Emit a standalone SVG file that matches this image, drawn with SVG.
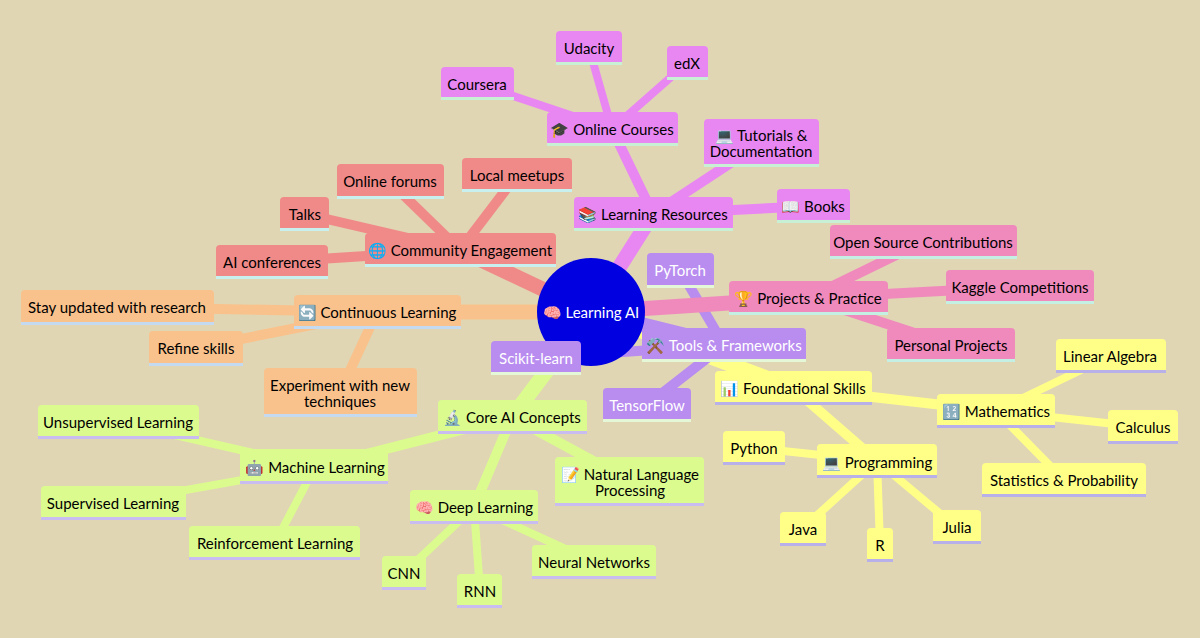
<svg xmlns="http://www.w3.org/2000/svg" width="1200" height="638" viewBox="0 0 1200 638">
<style>
text{font-family:Lato,"Noto Sans",sans-serif;font-size:15px;text-anchor:middle;fill:#000;transform:translateY(-.5px)}
.w text{fill:#fff}
g[id] rect{rx:4px}
g[id] rect.u{rx:0}
.l1{stroke-width:15}.l2{stroke-width:10}.l3{stroke-width:8}
.red line{stroke:#f08a88}.red rect{fill:#f08a88}.red .u{fill:#c8f0ee}
.org line{stroke:#f9c28c}.org rect{fill:#f9c28c}.org .u{fill:#c4daf0}
.grn line{stroke:#dcfb8e}.grn rect{fill:#dcfb8e}.grn .u{fill:#c8bcf0}
.pur line{stroke:#b98cf0}.pur rect{fill:#b98cf0}.pur .u{fill:#e4f8d8}
.yel line{stroke:#ffff88}.yel rect{fill:#ffff88}.yel .u{fill:#b8b0e8}
.pnk line{stroke:#f08abc}.pnk rect{fill:#f08abc}.pnk .u{fill:#c4f0e4}
.mag line{stroke:#e987f2}.mag rect{fill:#e987f2}.mag .u{fill:#c8f0d4}
</style>
<rect width="1200" height="638" fill="#e0d6b4"/>
<g id="connectors">
<g class="red"><line class="l1" x1="591" y1="312" x2="460" y2="250"/><line class="l2" x1="460" y1="250" x2="390" y2="182"/><line class="l2" x1="460" y1="250" x2="517" y2="175"/><line class="l2" x1="460" y1="250" x2="305" y2="214"/><line class="l2" x1="460" y1="250" x2="272" y2="262"/></g>
<g class="org"><line class="l1" x1="591" y1="312" x2="377" y2="312"/><line class="l2" x1="377" y1="312" x2="118" y2="307"/><line class="l2" x1="377" y1="312" x2="196" y2="348"/><line class="l2" x1="377" y1="312" x2="340" y2="392"/></g>
<g class="grn"><line class="l1" x1="591" y1="312" x2="512" y2="417"/><line class="l2" x1="512" y1="417" x2="315" y2="467"/><line class="l2" x1="512" y1="417" x2="474" y2="507"/><line class="l2" x1="512" y1="417" x2="630" y2="481"/><line class="l3" x1="315" y1="467" x2="118" y2="422"/><line class="l3" x1="315" y1="467" x2="113" y2="503"/><line class="l3" x1="315" y1="467" x2="275" y2="543"/><line class="l3" x1="474" y1="507" x2="404" y2="573"/><line class="l3" x1="474" y1="507" x2="480" y2="591"/><line class="l3" x1="474" y1="507" x2="594" y2="562"/></g>
<g class="yel"><line class="l1" x1="591" y1="312" x2="793" y2="388"/><line class="l2" x1="793" y1="388" x2="996" y2="411"/><line class="l2" x1="793" y1="388" x2="877" y2="461"/><line class="l3" x1="996" y1="411" x2="1110" y2="356"/><line class="l3" x1="996" y1="411" x2="1143" y2="427"/><line class="l3" x1="996" y1="411" x2="1064" y2="480"/><line class="l3" x1="877" y1="461" x2="754" y2="448"/><line class="l3" x1="877" y1="461" x2="802" y2="529"/><line class="l3" x1="877" y1="461" x2="880" y2="545"/><line class="l3" x1="877" y1="461" x2="956" y2="527"/></g>
<g class="pur"><line class="l1" x1="591" y1="312" x2="724" y2="345"/><line class="l2" x1="724" y1="345" x2="680" y2="270"/><line class="l2" x1="724" y1="345" x2="647" y2="405"/><line class="l2" x1="724" y1="345" x2="536" y2="358"/></g>
<g class="pnk"><line class="l1" x1="591" y1="312" x2="808" y2="298"/><line class="l2" x1="808" y1="298" x2="923" y2="242"/><line class="l2" x1="808" y1="298" x2="1020" y2="287"/><line class="l2" x1="808" y1="298" x2="951" y2="345"/></g>
<g class="mag"><line class="l1" x1="591" y1="312" x2="653" y2="214"/><line class="l2" x1="653" y1="214" x2="612" y2="129"/><line class="l2" x1="653" y1="214" x2="761" y2="143"/><line class="l2" x1="653" y1="214" x2="813" y2="206"/><line class="l3" x1="612" y1="129" x2="477" y2="84"/><line class="l3" x1="612" y1="129" x2="589" y2="48"/><line class="l3" x1="612" y1="129" x2="687" y2="63"/></g>
</g>
<g id="root" class="w"><circle cx="591" cy="312" r="54" fill="#0000e0"/><text x="591" y="318">🧠 Learning AI</text></g>
<g id="community" class="red"><rect x="365" y="233" width="191" height="34"/><rect class="u" x="365" y="264" width="191" height="3"/><text x="460" y="256">🌐 Community Engagement</text></g>
<g id="forums" class="red"><rect x="337" y="164" width="107" height="35"/><rect class="u" x="337" y="196" width="107" height="3"/><text x="390" y="187">Online forums</text></g>
<g id="talks" class="red"><rect x="280" y="197" width="49" height="34"/><rect class="u" x="280" y="228" width="49" height="3"/><text x="305" y="220">Talks</text></g>
<g id="conf" class="red"><rect x="216" y="245" width="112" height="34"/><rect class="u" x="216" y="276" width="112" height="3"/><text x="272" y="268">AI conferences</text></g>
<g id="meetups" class="red"><rect x="462" y="158" width="110" height="34"/><rect class="u" x="462" y="189" width="110" height="3"/><text x="517" y="181">Local meetups</text></g>
<g id="continuous" class="org"><rect x="294" y="295" width="167" height="34"/><rect class="u" x="294" y="326" width="167" height="3"/><text x="377" y="318">🔄 Continuous Learning</text></g>
<g id="stay" class="org"><rect x="21" y="290" width="193" height="35"/><rect class="u" x="21" y="322" width="193" height="3"/><text x="117" y="313">Stay updated with research</text></g>
<g id="refine" class="org"><rect x="149" y="331" width="94" height="35"/><rect class="u" x="149" y="363" width="94" height="3"/><text x="196" y="354">Refine skills</text></g>
<g id="experiment" class="org"><rect x="264" y="368" width="153" height="49"/><rect class="u" x="264" y="414" width="153" height="3"/><text x="340" y="391">Experiment with new</text><text x="340" y="407">techniques</text></g>
<g id="core" class="grn"><rect x="438" y="400" width="149" height="34"/><rect class="u" x="438" y="431" width="149" height="3"/><text x="512" y="423">🔬 Core AI Concepts</text></g>
<g id="scikit" class="pur"><rect x="491" y="341" width="90" height="34"/><rect class="u" x="491" y="372" width="90" height="3"/><g class="w"><text x="536" y="364">Scikit-learn</text></g></g>
<g id="ml" class="grn"><rect x="240" y="449" width="148" height="35"/><rect class="u" x="240" y="481" width="148" height="3"/><text x="315" y="473">🤖 Machine Learning</text></g>
<g id="unsup" class="grn"><rect x="38" y="405" width="161" height="34"/><rect class="u" x="38" y="436" width="161" height="3"/><text x="118" y="428">Unsupervised Learning</text></g>
<g id="sup" class="grn"><rect x="41" y="486" width="145" height="34"/><rect class="u" x="41" y="517" width="145" height="3"/><text x="113" y="509">Supervised Learning</text></g>
<g id="reinf" class="grn"><rect x="189" y="526" width="171" height="34"/><rect class="u" x="189" y="557" width="171" height="3"/><text x="275" y="549">Reinforcement Learning</text></g>
<g id="dl" class="grn"><rect x="410" y="490" width="128" height="34"/><rect class="u" x="410" y="521" width="128" height="3"/><text x="474" y="513">🧠 Deep Learning</text></g>
<g id="cnn" class="grn"><rect x="382" y="556" width="44" height="34"/><rect class="u" x="382" y="587" width="44" height="3"/><text x="404" y="579">CNN</text></g>
<g id="rnn" class="grn"><rect x="457" y="574" width="45" height="34"/><rect class="u" x="457" y="605" width="45" height="3"/><text x="480" y="597">RNN</text></g>
<g id="nn" class="grn"><rect x="532" y="545" width="124" height="34"/><rect class="u" x="532" y="576" width="124" height="3"/><text x="594" y="568">Neural Networks</text></g>
<g id="nlp" class="grn"><rect x="555" y="457" width="149" height="49"/><rect class="u" x="555" y="503" width="149" height="3"/><text x="630" y="480">📝 Natural Language</text><text x="630" y="496">Processing</text></g>
<g id="resources" class="mag"><rect x="574" y="197" width="159" height="34"/><rect class="u" x="574" y="228" width="159" height="3"/><text x="653" y="220">📚 Learning Resources</text></g>
<g id="courses" class="mag"><rect x="547" y="112" width="131" height="34"/><rect class="u" x="547" y="143" width="131" height="3"/><text x="612" y="135">🎓 Online Courses</text></g>
<g id="coursera" class="mag"><rect x="441" y="67" width="73" height="33"/><rect class="u" x="441" y="97" width="73" height="3"/><text x="477" y="90">Coursera</text></g>
<g id="udacity" class="mag"><rect x="556" y="31" width="66" height="34"/><rect class="u" x="556" y="62" width="66" height="3"/><text x="589" y="54">Udacity</text></g>
<g id="edx" class="mag"><rect x="667" y="46" width="41" height="34"/><rect class="u" x="667" y="77" width="41" height="3"/><text x="687" y="69">edX</text></g>
<g id="tutorials" class="mag"><rect x="704" y="119" width="115" height="48"/><rect class="u" x="704" y="164" width="115" height="3"/><text x="761" y="141">💻 Tutorials &amp;</text><text x="761" y="157">Documentation</text></g>
<g id="books" class="mag"><rect x="777" y="189" width="73" height="34"/><rect class="u" x="777" y="220" width="73" height="3"/><text x="813" y="212">📖 Books</text></g>
<g id="projects" class="pnk"><rect x="729" y="281" width="159" height="34"/><rect class="u" x="729" y="312" width="159" height="3"/><text x="808" y="304">🏆 Projects &amp; Practice</text></g>
<g id="opensource" class="pnk"><rect x="830" y="225" width="187" height="34"/><rect class="u" x="830" y="256" width="187" height="3"/><text x="923" y="248">Open Source Contributions</text></g>
<g id="kaggle" class="pnk"><rect x="946" y="270" width="148" height="34"/><rect class="u" x="946" y="301" width="148" height="3"/><text x="1020" y="293">Kaggle Competitions</text></g>
<g id="personal" class="pnk"><rect x="887" y="328" width="128" height="34"/><rect class="u" x="887" y="359" width="128" height="3"/><text x="951" y="351">Personal Projects</text></g>
<g id="pytorch" class="pur"><rect x="647" y="253" width="67" height="35"/><rect class="u" x="647" y="285" width="67" height="3"/><g class="w"><text x="680" y="276">PyTorch</text></g></g>
<g id="tools" class="pur"><rect x="642" y="328" width="164" height="34"/><rect class="u" x="642" y="359" width="164" height="3"/><g class="w"><text x="724" y="351">⚒️ Tools &amp; Frameworks</text></g></g>
<g id="tensorflow" class="pur"><rect x="603" y="388" width="88" height="34"/><rect class="u" x="603" y="419" width="88" height="3"/><g class="w"><text x="647" y="411">TensorFlow</text></g></g>
<g id="foundational" class="yel"><rect x="715" y="371" width="157" height="34"/><rect class="u" x="715" y="402" width="157" height="3"/><text x="793" y="394">📊 Foundational Skills</text></g>
<g id="math" class="yel"><rect x="937" y="394" width="118" height="34"/><rect class="u" x="937" y="425" width="118" height="3"/><text x="996" y="417">🔢 Mathematics</text></g>
<g id="linear" class="yel"><rect x="1056" y="339" width="110" height="34"/><rect class="u" x="1056" y="370" width="110" height="3"/><text x="1110" y="362">Linear Algebra</text></g>
<g id="calculus" class="yel"><rect x="1108" y="410" width="70" height="34"/><rect class="u" x="1108" y="441" width="70" height="3"/><text x="1143" y="433">Calculus</text></g>
<g id="stats" class="yel"><rect x="982" y="463" width="164" height="34"/><rect class="u" x="982" y="494" width="164" height="3"/><text x="1064" y="486">Statistics &amp; Probability</text></g>
<g id="programming" class="yel"><rect x="817" y="444" width="120" height="34"/><rect class="u" x="817" y="475" width="120" height="3"/><text x="877" y="468">💻 Programming</text></g>
<g id="python" class="yel"><rect x="723" y="431" width="62" height="34"/><rect class="u" x="723" y="462" width="62" height="3"/><text x="754" y="454">Python</text></g>
<g id="java" class="yel"><rect x="780" y="512" width="46" height="34"/><rect class="u" x="780" y="543" width="46" height="3"/><text x="803" y="535">Java</text></g>
<g id="r" class="yel"><rect x="867" y="528" width="26" height="34"/><rect class="u" x="867" y="559" width="26" height="3"/><text x="880" y="551">R</text></g>
<g id="julia" class="yel"><rect x="933" y="510" width="48" height="34"/><rect class="u" x="933" y="541" width="48" height="3"/><text x="957" y="533">Julia</text></g>
</svg>
